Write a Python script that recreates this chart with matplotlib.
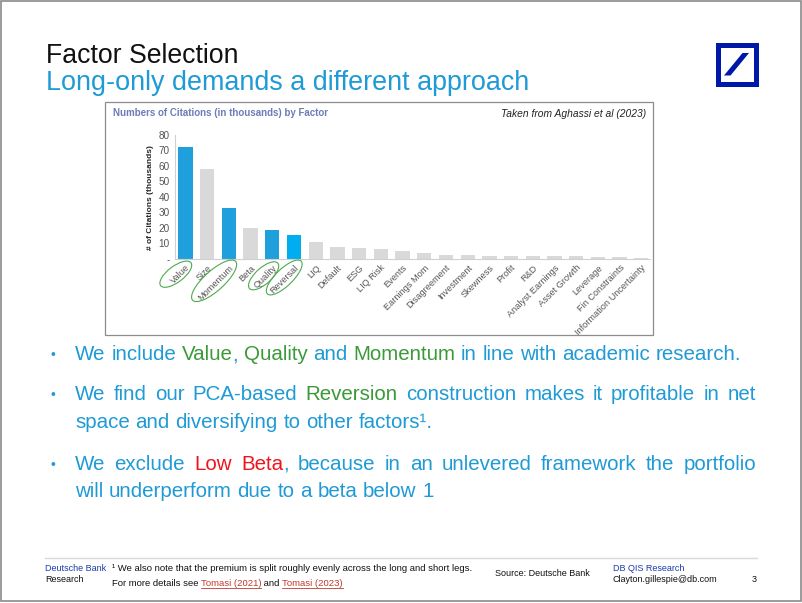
import matplotlib
matplotlib.use('Agg')
import matplotlib.pyplot as plt
from matplotlib import font_manager as fm
from matplotlib.patches import Rectangle, Ellipse, Polygon
from matplotlib.lines import Line2D
from matplotlib.transforms import IdentityTransform, Bbox, TransformedBbox

# ---------------- data ----------------
categories = ['Value', 'Size', 'Momentum', 'Beta', 'Quality', 'Reversal', 'LIQ',
              'Default', 'ESG', 'LIQ Risk', 'Events', 'Earnings Mom', 'Disagreement',
              'Investment', 'Skewness', 'Profit', 'R&D', 'Analyst Earnings',
              'Asset Growth', 'Leverage', 'Fin Constraints', 'Information Uncertainty']
citations = [72, 58, 33, 20, 18.5, 15.5, 10.8, 8.0, 7.2, 6.6, 5.3, 4.0, 2.5,
             2.5, 1.9, 1.9, 1.9, 1.9, 1.9, 1.3, 1.0, 0.6]
highlighted = ['Value', 'Momentum', 'Quality', 'Reversal']
circled = ['Value', 'Momentum', 'Quality', 'Reversal']
y_ticks = [0, 10, 20, 30, 40, 50, 60, 70, 80]
y_tick_labels = ['-', '10', '20', '30', '40', '50', '60', '70', '80']

chart_title = 'Numbers of Citations (in thousands) by Factor'
chart_source = 'Taken from Aghassi et al (2023)'
y_label = '# of Citations (thousands)'

# ---------------- setup ----------------
W, H = 802, 603
fig = plt.figure(figsize=(W / 100, H / 100), dpi=100)
fig.patch.set_facecolor('white')
renderer = fig.canvas.get_renderer()

names = {f.name for f in fm.fontManager.ttflist}
BODY = ['Liberation Sans', 'DejaVu Sans']
NARROW_OK = 'Liberation Sans Narrow' in names

BLUE = '#1E9AD6'
GREEN = '#3A9A38'
RED = '#F0141E'
DBBLUE = '#0018A8'


def fx(x):
    return x / W


def fy(y):
    return 1 - y / H


def put(x, y, s, **kw):
    kw.setdefault('family', BODY)
    kw.setdefault('va', 'baseline')
    return fig.text(fx(x), fy(y), s, **kw)


def width_of(s, **kw):
    kw.setdefault('family', BODY)
    t = fig.text(0, 0, s, **kw)
    w = t.get_window_extent(renderer).width
    t.remove()
    return w


def rich_line(x0, y, segs, size, justify=None):
    words, cur = [], []
    for txt, col in segs:
        parts = txt.split(' ')
        for k, p in enumerate(parts):
            if k > 0 and cur:
                words.append(cur)
                cur = []
            if p:
                cur.append((p, col))
    if cur:
        words.append(cur)
    kw = dict(fontsize=size, family=BODY)
    wws = [[width_of(p, **kw) for p, _ in w] for w in words]
    sp = width_of('a a', **kw) - width_of('aa', **kw)
    total = sum(sum(w) for w in wws)
    gap = sp if justify is None else (justify - x0 - total) / (len(words) - 1)
    x = x0
    for w, ws in zip(words, wws):
        for (p, col), pw in zip(w, ws):
            put(x, y, p, color=col, fontsize=size)
            x += pw
        x += gap


# slide frame
fig.add_artist(Rectangle((fx(0.8), fy(601)), fx(800.4), (600.2) / H, transform=fig.transFigure,
                         fill=False, edgecolor='#8a8a8a', lw=1.2))

# titles
put(46, 63, 'Factor Selection', fontsize=19.2, color='#111111')
put(46, 90, 'Long-only demands a different approach', fontsize=19.4, color=BLUE)

# logo
fig.add_artist(Rectangle((fx(717.5), fy(83.5)), 38 / W, 38 / H, transform=fig.transFigure,
                         fill=False, edgecolor=DBBLUE, lw=3.6))
fig.add_artist(Polygon([(fx(724), fy(75.5)), (fx(730.5), fy(75.5)), (fx(749), fy(53)), (fx(742.5), fy(53))],
                       closed=True, transform=fig.transFigure, facecolor=DBBLUE, edgecolor='none'))

# chart box
fig.add_artist(Rectangle((fx(105), fy(335)), (653 - 105) / W, (335 - 102) / H, transform=fig.transFigure,
                         fill=False, edgecolor='#8c8c8c', lw=0.9))
if NARROW_OK:
    put(112.7, 116.5, chart_title, fontsize=8.3, fontweight='bold', color='#6C7DB8',
        family=['Liberation Sans Narrow', 'Liberation Sans'])
else:
    put(112.7, 116.5, chart_title, fontsize=7.0, fontweight='bold', color='#6C7DB8')
put(645.7, 117, chart_source, fontsize=7.4, style='italic', color='#222222', ha='right')

# axes
ax_left, ax_right, ax_bot, ax_top = 174.65, 650.0, 259.0, 134.8
ax = fig.add_axes([fx(ax_left), fy(ax_bot), (ax_right - ax_left) / W, (ax_bot - ax_top) / H])
x = list(range(len(categories)))
colors = []
for c in categories:
    if c == 'Reversal':
        colors.append('#00AEEF')
    elif c in highlighted:
        colors.append('#1FA0DC')
    else:
        colors.append('#D9D9D9')
ax.bar(x, citations, width=0.66, color=colors, edgecolor='none')
ax.set_xlim(-0.5, 21.4)
ax.set_ylim(0, 80)
ax.set_facecolor('none')
for s in ['top', 'right']:
    ax.spines[s].set_visible(False)
for s in ['left', 'bottom']:
    ax.spines[s].set_color('#D0D0D0')
    ax.spines[s].set_linewidth(0.8)
ax.set_yticks(y_ticks)
ax.set_yticklabels(y_tick_labels, fontsize=7.2, color='#555555', family=BODY)
ax.tick_params(axis='y', length=0, pad=3.5)
ax.set_xticks(x)
ax.set_xticklabels(categories, rotation=45, ha='right', rotation_mode='anchor',
                   fontsize=6.6, color='#555555', family=BODY)
ax.tick_params(axis='x', length=0, pad=3)
clipbox = TransformedBbox(Bbox([[105, H - 335], [653, H - 102]]), IdentityTransform())
for lbl in ax.get_xticklabels():
    lbl.set_clip_box(clipbox)
    lbl.set_clip_on(True)

put(151, 198, y_label, fontsize=6, fontweight='bold', color='#262626', rotation=90,
    ha='center', va='center')

# green ellipses around selected factor labels (offsets in px from tick)
ell_style = {'Value': (-9.7, 15.2, 38, 16, 37),
             'Momentum': (-14.8, 21.8, 58, 20, 42),
             'Quality': (-8.7, 16.8, 38, 16, 42),
             'Reversal': (-9.8, 18.5, 47, 17, 44)}
for c in circled:
    i = categories.index(c)
    tx, ty = ax.transData.transform((i, 0))
    dx, dy, ew, eh, ang = ell_style[c]
    fig.add_artist(Ellipse((tx + dx, ty - dy), ew, eh, angle=ang, transform=IdentityTransform(),
                           fill=False, edgecolor='#4DAA4D', lw=0.8))

# bullets
BS = 14.8
for yb in [360.5, 400, 470]:
    put(51, yb - 1, '\u2022', fontsize=10, color=BLUE)
rich_line(75, 360.5, [('We include ', BLUE), ('Value', GREEN), (', ', BLUE), ('Quality', GREEN),
                      (' and ', BLUE), ('Momentum', GREEN), (' in line with academic research.', BLUE)], BS)
rich_line(75, 400, [('We find our PCA-based ', BLUE), ('Reversion', GREEN),
                    (' construction makes it profitable in net', BLUE)], BS, justify=756)
rich_line(75, 427.5, [('space and diversifying to other factors\u00b9.', BLUE)], BS)
rich_line(75, 470, [('We exclude ', BLUE), ('Low Beta', RED),
                    (', because in an unlevered framework the portfolio', BLUE)], BS, justify=756)
rich_line(75, 497, [('will underperform due to a beta below 1', BLUE)], BS)

# footer
fig.add_artist(Line2D([fx(45), fx(757)], [fy(558.3), fy(558.3)], transform=fig.transFigure,
                      color='#D9D9D9', lw=1))
FS = 6.5
FN = 6.8
put(45, 571, 'Deutsche Bank', fontsize=FS, color='#1A3BAA')
put(45, 582, 'Research', fontsize=FS, color='#111111')
put(111.5, 571, '\u00b9 We also note that the premium is split roughly evenly across the long and short legs.',
    fontsize=FN, color='#111111')
LINK = '#C0392B'
xx = 111.5
for seg, col in [('For more details see ', '#111111'), ('Tomasi (2021)', LINK), (' and ', '#111111'),
                 ('Tomasi (2023)', LINK)]:
    t = put(xx, 586.5, seg, fontsize=FN, color=col)
    w = t.get_window_extent(renderer).width
    if col == LINK:
        fig.add_artist(Line2D([fx(xx), fx(xx + w)], [fy(588.2), fy(588.2)], transform=fig.transFigure,
                              color=LINK, lw=0.6))
    xx += w
put(495, 576, 'Source: Deutsche Bank', fontsize=FS, color='#111111')
put(612.8, 571, 'DB QIS Research', fontsize=FS, color='#1A3BAA')
put(612.8, 582, 'Clayton.gillespie@db.com', fontsize=FS, color='#111111')
put(757, 582, '3', fontsize=FS, color='#111111', ha='right')

fig.savefig('out.png', dpi=100, facecolor='white')
